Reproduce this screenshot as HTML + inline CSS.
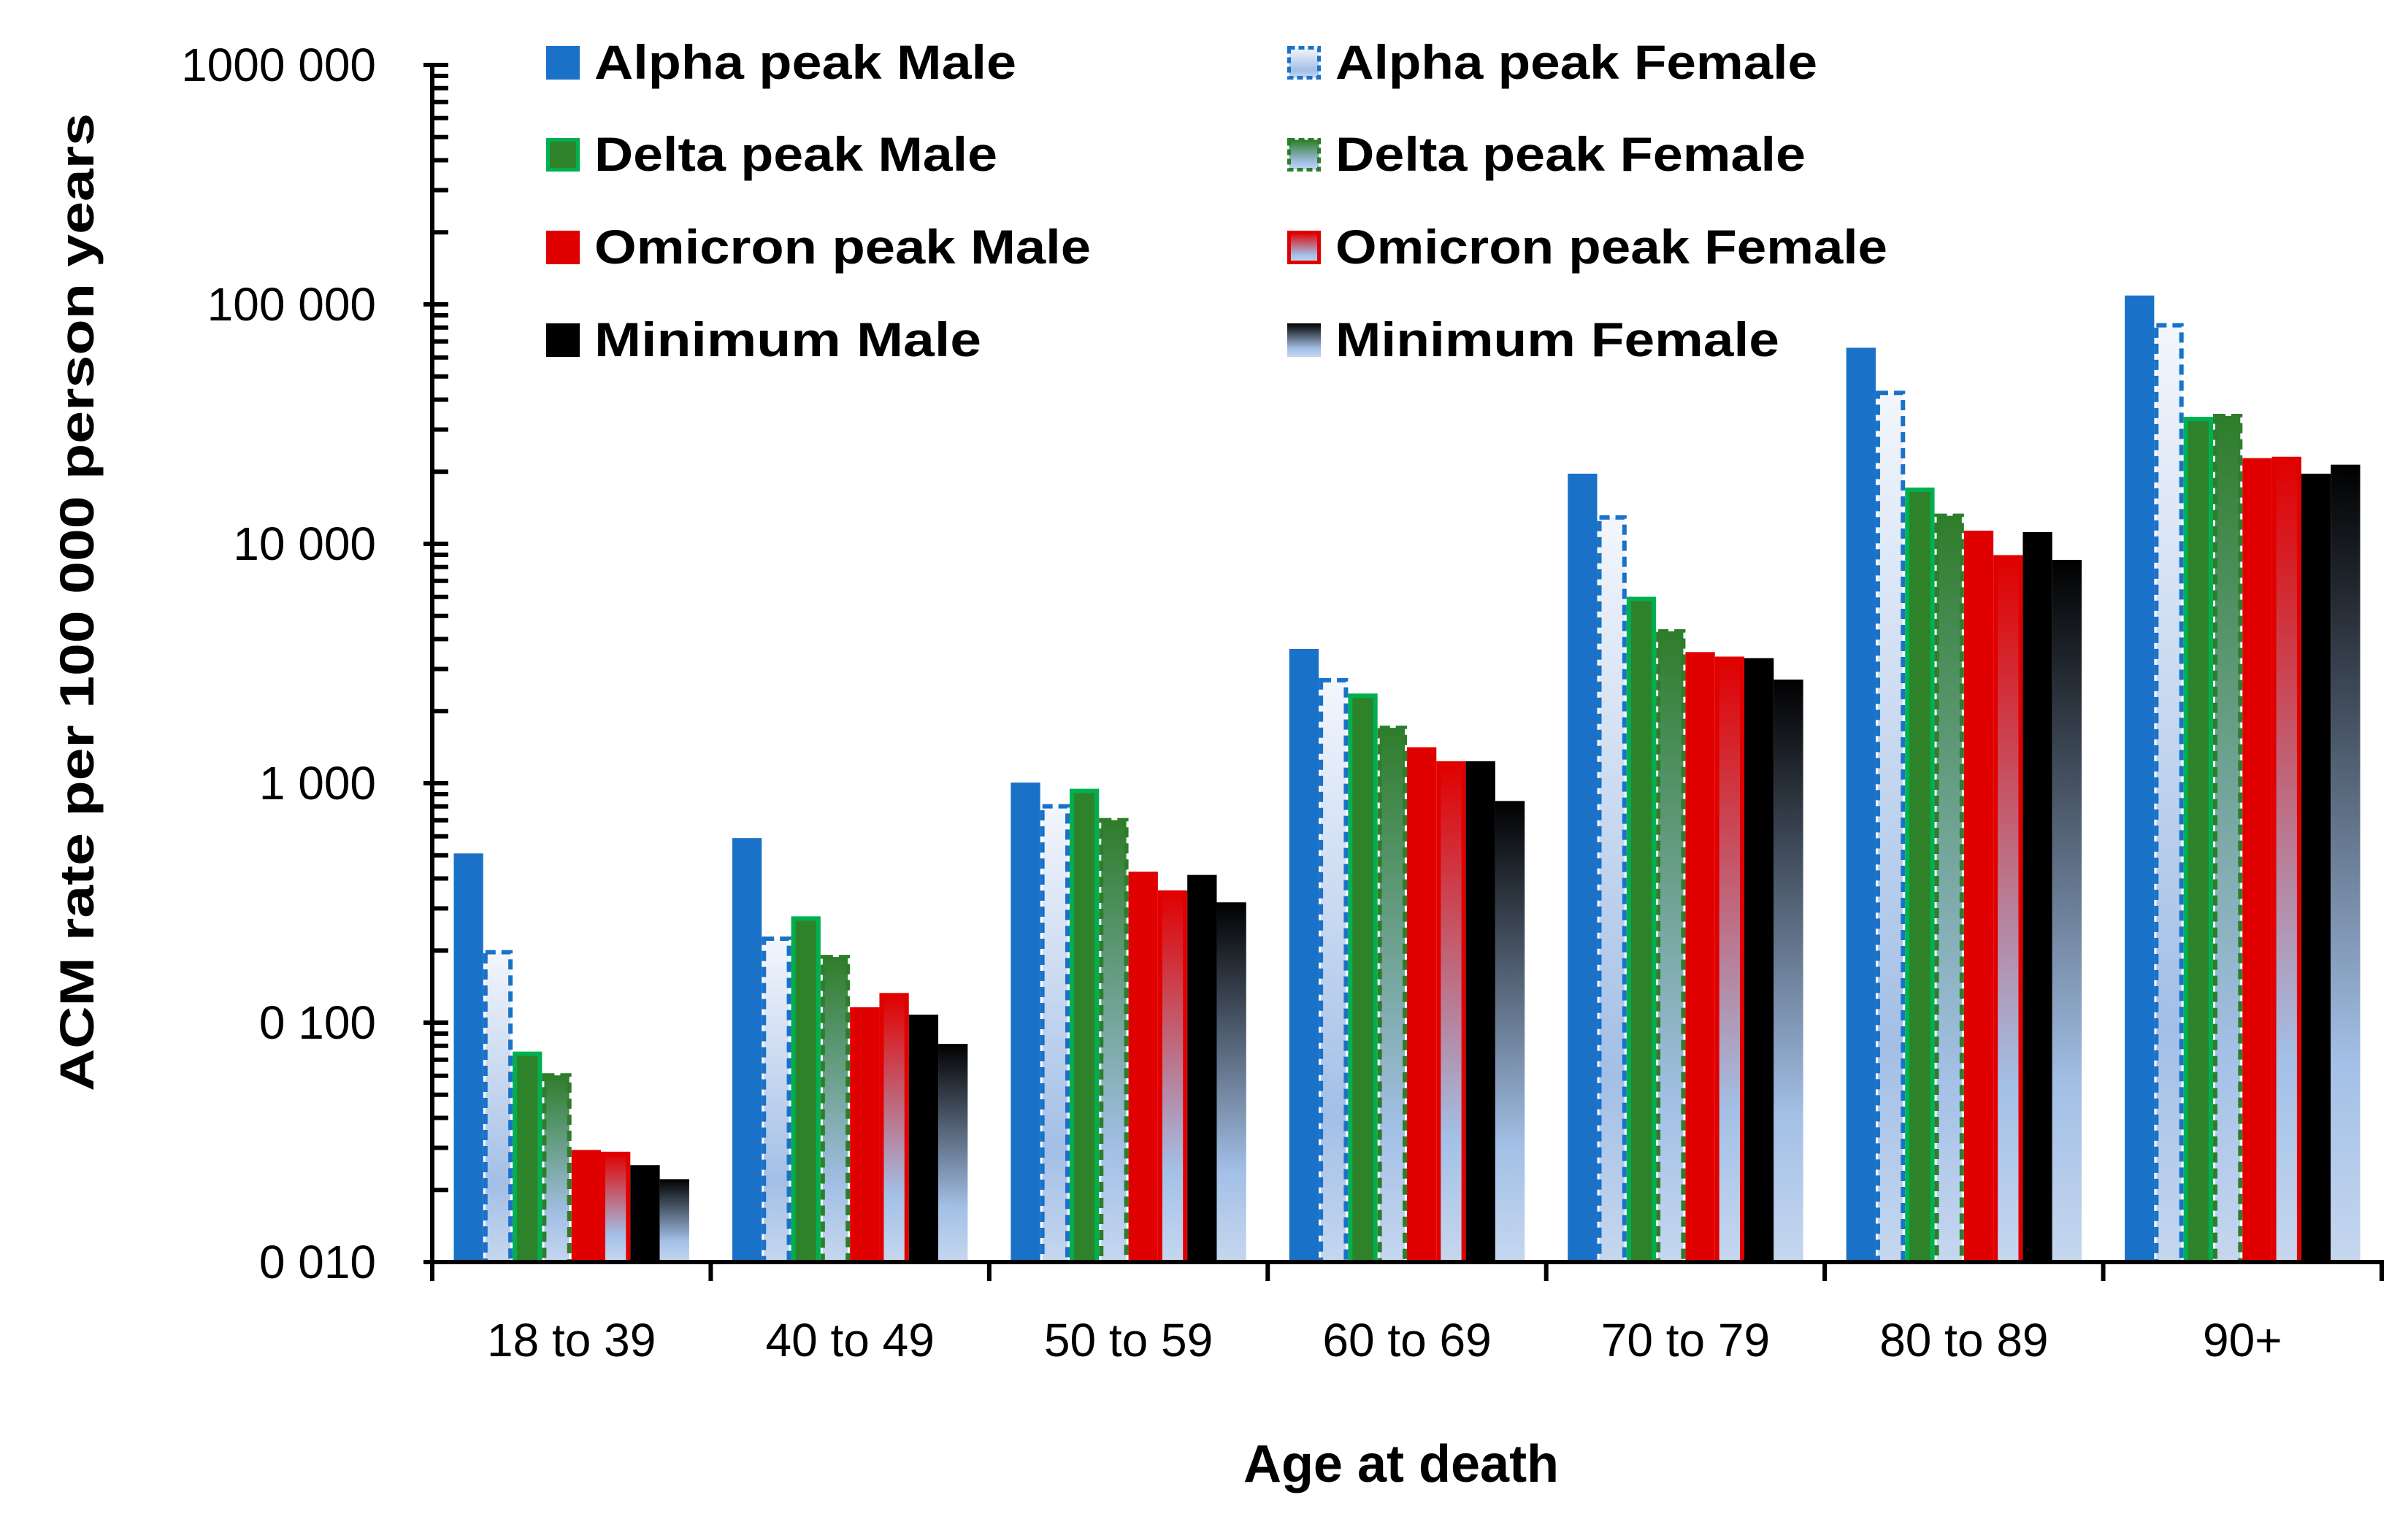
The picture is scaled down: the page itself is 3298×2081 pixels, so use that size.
<!DOCTYPE html>
<html><head><meta charset="utf-8"><style>
html,body{margin:0;padding:0;background:#fff}
svg{display:block;font-family:"Liberation Sans",sans-serif}
</style></head><body>
<svg id="chart" width="3298" height="2081" viewBox="0 0 3298 2081" xmlns="http://www.w3.org/2000/svg">
<defs>
<linearGradient id="gA" x1="0" y1="0" x2="0" y2="1"><stop offset="0" stop-color="#f3f6fc"/><stop offset="0.75" stop-color="#a3bfe6"/><stop offset="1" stop-color="#c6d7ef"/></linearGradient>
<linearGradient id="gD" x1="0" y1="0" x2="0" y2="1"><stop offset="0" stop-color="#2e7d2a"/><stop offset="0.75" stop-color="#a3c0e6"/><stop offset="1" stop-color="#c6d7ef"/></linearGradient>
<linearGradient id="gO" x1="0" y1="0" x2="0" y2="1"><stop offset="0" stop-color="#e00000"/><stop offset="0.75" stop-color="#a3c0e6"/><stop offset="1" stop-color="#c6d7ef"/></linearGradient>
<linearGradient id="gM" x1="0" y1="0" x2="0" y2="1"><stop offset="0" stop-color="#000000"/><stop offset="0.75" stop-color="#a3c0e6"/><stop offset="1" stop-color="#c6d7ef"/></linearGradient>
</defs>
<g id="bars"></g>
<g id="axes"></g>
<g id="legend"></g>
<text x="1919" y="2030" font-size="72" font-weight="bold" text-anchor="middle">Age at death</text>
<text transform="translate(128,825) rotate(-90)" font-size="66" font-weight="bold" text-anchor="middle" textLength="1340" lengthAdjust="spacingAndGlyphs">ACM rate per 100 000 person years</text>
</svg>
<script>
const categories = ["18 to 39","40 to 49","50 to 59","60 to 69","70 to 79","80 to 89","90+"];
const alphaMale = [509,590,1006,3640,19630,65900,108900];
const alphaFemale = [201,229,818,2750,13160,43600,83500];
const deltaMale = [75.7,278,948,2370,6010,17180,33900];
const deltaFemale = [61.5,192,716,1740,4400,13370,34900];
const omicronMale = [29.4,116,427,1413,3530,11350,22800];
const omicronFemale = [28.9,133,357,1236,3380,8970,23100];
const minimumMale = [25.4,108,414,1236,3330,11190,19630];
const minimumFemale = [22.2,81.5,318,843,2710,8570,21400];
const tickValues = [10,100,1000,10000,100000,1000000];
const tickLabels = ["0 010","0 100","1 000","10 000","100 000","1000 000"];

const NS="http://www.w3.org/2000/svg";
const X0=592, X1=3262, Y0=1729, DEC=328;
const groupW=(X1-X0)/categories.length, barW=40.3, gap=(groupW-8*barW)/2;
function yScale(v){return Y0-(Math.log10(v)-1)*DEC;}
function xBar(g,i){return X0+g*groupW+gap+i*barW;}
function mk(tag,attrs,parent){const e=document.createElementNS(NS,tag);for(const k in attrs)e.setAttribute(k,attrs[k]);parent.appendChild(e);return e;}

const series=[
 {name:"alpha-male",data:alphaMale,fill:"#1a72c8",stroke:"none"},
 {name:"alpha-female",data:alphaFemale,fill:"url(#gA)",stroke:"#1a72c8",dash:"14 8"},
 {name:"delta-male",data:deltaMale,fill:"#2e832a",stroke:"#00b050"},
 {name:"delta-female",data:deltaFemale,fill:"url(#gD)",stroke:"#2e7d2a",dash:"14 8"},
 {name:"omicron-male",data:omicronMale,fill:"#e00000",stroke:"none"},
 {name:"omicron-female",data:omicronFemale,fill:"url(#gO)",stroke:"#e00000"},
 {name:"minimum-male",data:minimumMale,fill:"#000000",stroke:"none"},
 {name:"minimum-female",data:minimumFemale,fill:"url(#gM)",stroke:"none"}
];
const bars=document.getElementById('bars');
series.forEach((s,i)=>{
  s.data.forEach((v,g)=>{
    const y=yScale(v), x=xBar(g,i);
    const sw=s.stroke==="none"?0:6;
    const r=mk('rect',{x:x+sw/2,y:y+sw/2,width:barW-sw,height:Y0-y-sw/2,fill:s.fill,stroke:s.stroke,'stroke-width':sw},bars);
    if(s.dash) r.setAttribute('stroke-dasharray',s.dash);
    
    
  });
});

const axes=document.getElementById('axes');
const ya=mk('line',{x1:X0,y1:Y0+3,x2:X0,y2:yScale(1000000)-3,stroke:'#000','stroke-width':6},axes);


const xa=mk('line',{x1:X0-3,y1:Y0,x2:X1+3,y2:Y0,stroke:'#000','stroke-width':6},axes);


tickValues.forEach((v,i)=>{
  const y=yScale(v);
  const t=mk('line',{x1:X0-12,y1:y,x2:X0+22,y2:y,stroke:'#000','stroke-width':6},axes);
  
  
  const l=mk('text',{x:515,y:y+22,'font-size':64,'text-anchor':'end'},axes);
  l.textContent=tickLabels[i];
  
  
  if(i<tickValues.length-1){
    for(let m=2;m<=9;m++){
      const my=yScale(v*m);
      const mt=mk('line',{x1:X0,y1:my,x2:X0+22,y2:my,stroke:'#000','stroke-width':6},axes);
      
      
    }
  }
});
for(let g=0;g<=categories.length;g++){
  const x=X0+g*groupW;
  const t=mk('line',{x1:x,y1:Y0,x2:x,y2:Y0+26,stroke:'#000','stroke-width':6},axes);
  
  
  if(g<categories.length){
    const l=mk('text',{x:x+groupW/2,y:1858,'font-size':64,'text-anchor':'middle'},axes);
    l.textContent=categories[g];
    
    
  }
}

const legendItems=[
 ["Alpha peak Male",748,85,"#1a72c8","none",null,578],
 ["Delta peak Male",748,211,"#2e832a","#00b050",null,552],
 ["Omicron peak Male",748,338,"#e00000","none",null,680],
 ["Minimum Male",748,465,"#000","none",null,530],
 ["Alpha peak Female",1763,85,"url(#gA)","#1a72c8","8 5",660],
 ["Delta peak Female",1763,211,"url(#gD)","#2e7d2a","8 5",644],
 ["Omicron peak Female",1763,338,"url(#gO)","#e00000",null,756],
 ["Minimum Female",1763,465,"url(#gM)","none",null,608]
];
const lg=document.getElementById('legend');
legendItems.forEach(it=>{
  const sw=it[4]==="none"?0:5;
  const r=mk('rect',{x:it[1]+sw/2,y:it[2]-22+sw/2,width:46-sw,height:46-sw,fill:it[3],stroke:it[4],'stroke-width':sw},lg);
  if(it[5]) r.setAttribute('stroke-dasharray',it[5]);
  
  
  const t=mk('text',{x:it[1]+66,y:it[2]+23,'font-size':66,'font-weight':'bold',textLength:it[6],lengthAdjust:'spacingAndGlyphs'},lg);
  t.textContent=it[0];
  
  
});
</script>
</body></html>
